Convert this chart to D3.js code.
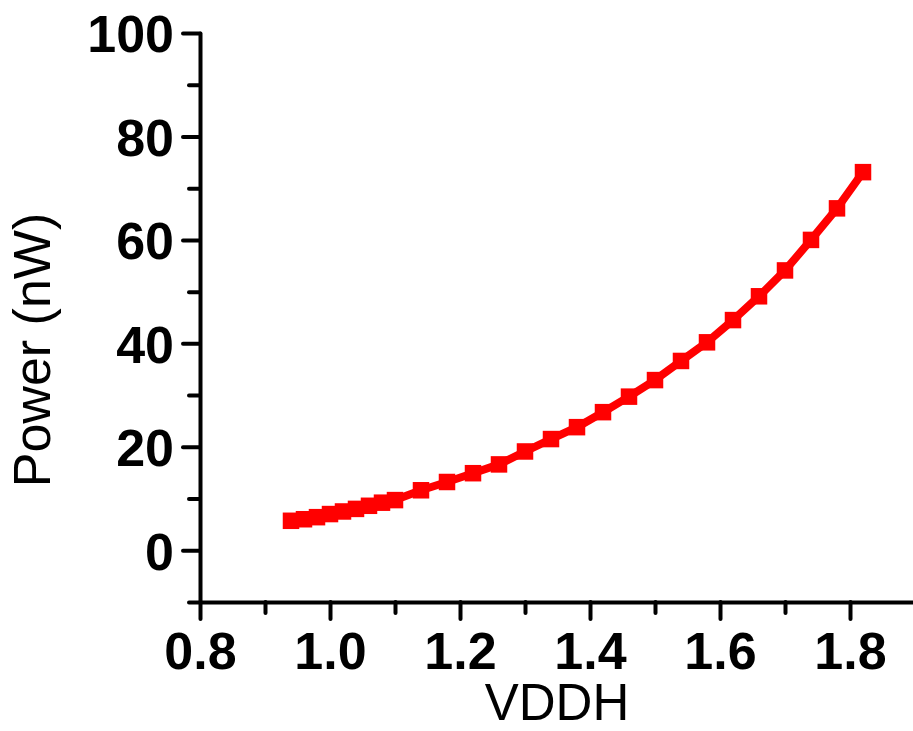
<!DOCTYPE html>
<html>
<head>
<meta charset="utf-8">
<script src="https://cdn.jsdelivr.net/npm/d3@7"></script>
<style>
  html, body { margin: 0; padding: 0; background: #fff; }
  svg { display: block; }
  .tick text { font-family: "Liberation Sans", Arial, sans-serif; font-weight: bold; }
</style>
</head>
<body>
<svg id="chart" width="913" height="731"></svg>
<script>
// Supply voltage (V) and measured power (nW)
const vddh = [0.94, 0.96, 0.98, 1.00, 1.02, 1.04, 1.06, 1.08, 1.10, 1.14, 1.18, 1.22, 1.26, 1.30,
              1.34, 1.38, 1.42, 1.46, 1.50, 1.54, 1.58, 1.62, 1.66, 1.70, 1.74, 1.78, 1.82];
const powerNW = [5.7, 6.0, 6.4, 7.0, 7.5, 8.0, 8.6, 9.2, 9.7, 11.6, 13.2, 14.9, 16.6, 19.1,
                 21.5, 23.8, 26.7, 29.7, 32.9, 36.6, 40.2, 44.5, 49.1, 54.1, 60.0, 66.1, 73.1];

const xMajorTicks = [0.8, 1.0, 1.2, 1.4, 1.6, 1.8];
const xMinorTicks = [0.9, 1.1, 1.3, 1.5, 1.7, 1.9];
const yMajorTicks = [0, 20, 40, 60, 80, 100];
const yMinorTicks = [-10, 10, 30, 50, 70, 90];

const xTitle = "VDDH";
const yTitle = "Power (nW)";

const svg = d3.select("#chart");
const font = '"Liberation Sans", Arial, sans-serif';

const x = d3.scaleLinear().domain([0.8, 1.9]).range([200, 915]);
const y = d3.scaleLinear().domain([-10, 100]).range([602, 33]);

const axisY0 = y(-10);
const axisX0 = x(0.8);

// minor ticks first (no labels)
svg.append("g")
  .attr("transform", `translate(0,${axisY0})`)
  .call(d3.axisBottom(x).tickValues(xMinorTicks).tickSize(11).tickSizeOuter(0).tickFormat(""))
  .call(g => g.select(".domain").remove());
svg.append("g")
  .attr("transform", `translate(${axisX0},0)`)
  .call(d3.axisLeft(y).tickValues(yMinorTicks).tickSize(11).tickSizeOuter(0).tickFormat(""))
  .call(g => g.select(".domain").remove());

// major ticks with labels
const gx = svg.append("g")
  .attr("transform", `translate(0,${axisY0})`)
  .call(d3.axisBottom(x).tickValues(xMajorTicks).tickSize(17).tickSizeOuter(0).tickPadding(10)
        .tickFormat(d3.format(".1f")));
gx.selectAll(".tick text").attr("font-size", 52).attr("dy", "0.76em");

const gy = svg.append("g")
  .attr("transform", `translate(${axisX0},0)`)
  .call(d3.axisLeft(y).tickValues(yMajorTicks).tickSize(17).tickSizeOuter(0).tickPadding(9)
        .tickFormat(d3.format("d")));
gy.selectAll(".tick text").attr("font-size", 52).attr("dy", "0.36em");

svg.selectAll(".domain, .tick line")
  .attr("stroke", "#000")
  .attr("stroke-width", 4)
  .attr("stroke-linecap", "round");
svg.selectAll(".tick text").attr("fill", "#000").attr("font-family", font).attr("font-weight", "bold");

// data line and square markers
const pts = vddh.map((v, i) => [v, powerNW[i]]);
svg.append("path")
  .datum(pts)
  .attr("fill", "none")
  .attr("stroke", "#ff0000")
  .attr("stroke-width", 8)
  .attr("stroke-linejoin", "round")
  .attr("d", d3.line().x(d => x(d[0])).y(d => y(d[1])));

const ms = 16.5;
svg.append("g").selectAll("rect")
  .data(pts)
  .join("rect")
  .attr("x", d => x(d[0]) - ms / 2)
  .attr("y", d => y(d[1]) - ms / 2)
  .attr("width", ms)
  .attr("height", ms)
  .attr("fill", "#ff0000");

// axis titles
svg.append("text")
  .attr("x", 557)
  .attr("y", 720)
  .attr("text-anchor", "middle")
  .attr("font-family", font)
  .attr("font-size", 51)
  .attr("fill", "#000")
  .text(xTitle);

svg.append("text")
  .attr("transform", "translate(50,350) rotate(-90)")
  .attr("text-anchor", "middle")
  .attr("font-family", font)
  .attr("font-size", 52)
  .attr("fill", "#000")
  .text(yTitle);
</script>
</body>
</html>
